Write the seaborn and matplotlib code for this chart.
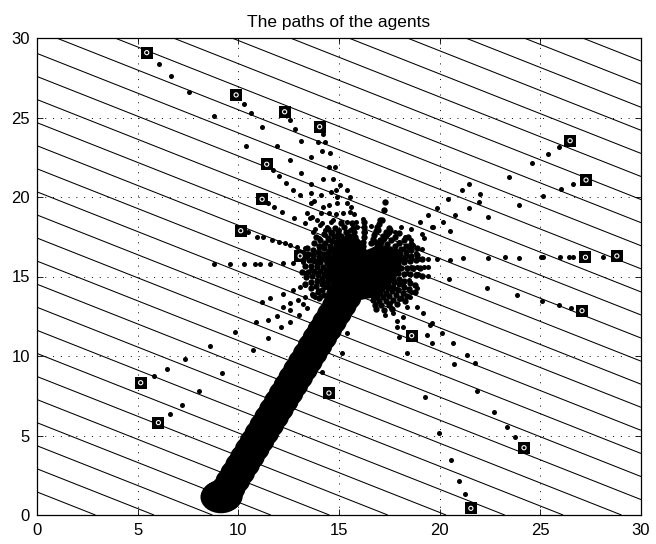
import matplotlib
matplotlib.use("Agg")
import matplotlib.pyplot as plt
import seaborn as sns
import numpy as np
import pandas as pd
from matplotlib.patches import Circle
from matplotlib.collections import PatchCollection

# ---------------- data ----------------
title = "The paths of the agents"
ticks = [0, 5, 10, 15, 20, 25, 30]

# starting positions of the agents (square markers)
agent_x = [5.45, 9.89, 12.30, 14.04, 11.41, 11.18, 10.12, 13.07, 5.15, 6.03,
           14.50, 18.61, 24.19, 21.55, 26.48, 27.27, 27.24, 28.80, 27.07]
agent_y = [29.08, 26.42, 25.36, 24.42, 22.06, 19.86, 17.88, 16.29, 8.32, 5.81,
           7.67, 11.28, 4.23, 0.42, 23.54, 21.07, 16.21, 16.29, 12.85]

# contour levels of the background field x + 2y
levels = [2.90, 5.81, 8.71, 11.61, 14.52, 17.42, 20.32, 23.23, 26.13, 29.03,
          31.94, 34.84, 37.74, 40.65, 43.55, 46.45, 49.35, 52.26, 55.16, 58.06,
          60.97, 63.87, 66.77, 69.68, 72.58, 75.48, 78.39, 81.29, 84.19, 87.10]

# path dots, grouped by region
dots_nw = [
    (6.08, 28.36), (6.66, 27.63), (7.57, 26.58), (8.81, 25.09), (10.38, 23.20),
    (10.27, 25.85), (10.65, 25.26), (11.18, 24.40), (11.91, 23.23), (12.55, 22.30),
    (13.10, 21.50), (13.60, 20.80), (14.10, 20.10), (14.50, 19.50), (14.85, 18.90), (15.10, 18.40),
    (12.58, 24.84), (12.80, 24.28), (13.11, 23.54), (13.60, 22.50), (14.19, 21.15),
    (14.60, 20.30), (14.90, 19.60), (15.20, 19.00), (15.40, 18.40), (15.55, 17.90),
    (14.19, 23.96), (13.98, 23.48), (14.32, 23.44), (14.17, 22.87), (14.56, 22.79),
    (14.49, 21.90), (14.80, 21.87), (14.72, 21.11), (15.05, 20.75), (15.38, 20.44),
    (15.55, 20.02), (15.60, 19.40), (15.75, 18.90), (15.85, 18.40),
    (14.85, 20.44), (14.89, 20.02), (15.38, 19.60), (15.55, 19.08), (13.60, 20.23),
    (13.78, 19.77), (14.22, 19.39), (14.50, 18.97), (14.72, 18.55), (13.56, 18.66),
    (14.06, 18.24), (14.31, 17.92), (15.05, 17.50),
    (11.70, 21.70), (12.00, 21.34), (12.35, 20.90), (12.73, 20.44), (13.07, 20.13),
    (13.60, 19.60), (14.10, 19.00), (14.60, 18.40), (15.00, 17.90),
    (11.46, 19.60), (11.77, 19.39), (12.19, 19.08), (12.78, 18.70), (13.30, 18.35),
    (13.80, 18.00), (14.30, 17.60), (14.80, 17.20),
    (13.40, 18.97), (13.65, 18.76), (13.89, 18.55), (14.14, 18.34), (14.39, 18.13),
    (14.64, 17.82), (14.89, 17.50), (15.05, 17.19), (15.30, 16.98),
    (10.50, 17.78), (10.91, 17.50), (11.24, 17.46), (11.66, 17.30), (12.04, 17.19),
    (12.32, 17.09), (12.57, 16.98), (12.90, 16.88), (13.31, 16.77), (13.73, 16.67),
    (14.06, 16.56), (14.40, 16.45),
    (13.40, 16.20), (13.70, 16.15), (14.00, 16.10), (14.30, 16.05),
    (8.80, 15.80), (9.60, 15.80), (10.30, 15.78), (10.83, 15.77), (11.08, 15.77),
    (11.57, 15.80), (12.24, 15.83), (12.73, 15.87), (13.23, 15.93), (13.73, 16.00),
    (14.14, 16.08), (14.47, 16.08),
]
dots_sw = [
    (5.81, 8.74), (6.44, 9.16), (7.35, 9.81), (8.59, 10.65), (9.85, 11.50),
    (10.90, 12.15), (11.90, 12.53), (12.57, 12.90), (13.20, 13.30), (13.80, 13.70),
    (6.61, 6.35), (7.19, 6.94), (8.05, 7.78), (9.21, 8.91), (10.71, 10.38),
    (11.48, 11.15), (12.10, 11.80), (12.57, 12.16), (13.00, 12.60), (13.40, 13.00),
    (11.16, 13.42), (11.57, 13.63), (12.24, 13.90), (12.73, 14.15), (13.07, 14.36),
    (13.32, 14.47), (13.62, 14.57), (13.89, 14.78), (14.14, 14.89), (14.39, 14.99),
    (12.24, 13.10), (12.57, 13.31), (12.98, 13.52), (13.31, 13.73), (13.64, 13.90),
    (13.97, 14.15), (14.31, 14.36), (11.48, 12.26),
    (14.16, 9.00), (15.14, 10.21), (15.38, 11.43),
]
dots_se = [
    (18.20, 11.84), (17.87, 11.84), (17.70, 12.68), (17.54, 13.31), (17.20, 13.73),
    (18.20, 12.47), (18.37, 13.10), (18.53, 13.73), (18.86, 13.10), (18.86, 14.26),
    (19.19, 12.68),
    (23.76, 4.89), (23.33, 5.53), (22.70, 6.48), (21.84, 7.82), (20.72, 9.50),
    (19.60, 10.80), (19.36, 11.32), (19.52, 11.95),
    (21.76, 9.54), (21.35, 10.06), (20.68, 10.80), (20.10, 11.43), (19.60, 12.06),
    (21.26, 1.32), (20.96, 2.16), (20.55, 3.44), (19.99, 5.18), (19.26, 7.40),
    (18.37, 10.17), (18.00, 11.20),
    (26.53, 13.04), (25.95, 13.21), (25.07, 13.46), (23.86, 13.84), (22.37, 14.30),
    (20.48, 14.82), (19.44, 15.03), (18.90, 15.15), (18.40, 15.25),
]
dots_ne = [
    (25.93, 23.12), (25.40, 22.70), (24.57, 22.12), (23.46, 21.24), (22.00, 20.19),
    (21.48, 19.33), (20.76, 18.87), (20.18, 18.45), (19.60, 18.13), (19.10, 17.70),
    (18.60, 17.30),
    (26.64, 20.80), (26.03, 20.50), (25.15, 20.06), (23.96, 19.50), (22.40, 18.77),
    (20.52, 17.88), (19.69, 18.09), (19.20, 17.40), (18.70, 17.00),
    (21.46, 20.82), (21.10, 20.44), (20.43, 19.86), (19.89, 19.29), (19.44, 18.85),
    (19.00, 18.40), (18.60, 18.00), (21.94, 19.67),
    (28.13, 16.25), (26.61, 16.20), (26.43, 16.20), (26.00, 16.22), (25.12, 16.22),
    (25.04, 16.22), (23.96, 16.18), (23.25, 16.20), (22.39, 16.14), (21.18, 16.14),
    (20.52, 16.04), (19.86, 16.12), (19.40, 16.10), (19.00, 16.10), (18.60, 16.08),
    (18.30, 16.05),
    (18.60, 15.60), (18.86, 15.60), (19.20, 15.62), (19.40, 15.60),
]
dots_core = [
    (17.60, 16.50), (17.90, 16.60), (18.20, 16.70), (18.50, 16.80), (18.00, 17.20),
    (18.30, 17.50), (17.80, 17.80), (18.10, 18.10), (18.40, 16.30), (18.80, 16.50),
    (19.10, 16.70), (18.50, 14.80), (18.20, 14.50), (17.90, 14.20), (18.60, 14.00),
    (18.00, 13.60), (17.60, 13.00), (17.30, 12.60), (17.90, 12.20), (14.20, 17.00),
    (14.00, 17.40), (13.70, 17.80), (14.50, 17.30), (13.90, 15.60), (13.60, 15.40),
    (13.30, 15.20), (13.90, 15.20), (14.10, 13.80), (14.50, 13.50), (14.00, 16.80),
    (16.60, 18.20), (16.30, 17.80), (15.90, 18.10), (16.20, 18.60),
]
# upward spikes above the meeting point
dots_spikes = [
    (17.29, 19.70), (17.24, 19.18), (17.12, 18.55), (16.96, 17.92), (16.79, 17.19),
    (17.54, 17.92), (17.47, 17.81), (17.40, 17.70), (17.33, 17.58), (17.25, 17.45),
    (17.18, 17.33), (17.10, 17.20), (17.02, 17.08), (16.95, 16.95), (16.87, 16.82),
    (17.04, 18.55), (16.97, 18.33), (16.90, 18.10), (16.83, 17.85), (16.75, 17.60),
    (16.68, 17.35), (16.60, 17.10),
]
# dense rays of dots radiating from the meeting point
dots_rays = [
    (17.33, 15.76), (17.63, 15.81), (17.92, 15.86), (18.22, 15.92), (18.51, 15.97), (18.81, 16.02), (19.11, 16.07),
    (17.24, 16.06), (17.51, 16.18), (17.78, 16.31), (18.05, 16.44), (18.32, 16.57), (18.60, 16.69), (18.87, 16.82),
    (17.07, 16.32), (17.30, 16.51), (17.53, 16.71), (17.76, 16.90), (17.99, 17.09), (18.22, 17.29), (18.45, 17.48),
    (15.74, 16.68), (15.64, 16.96), (15.53, 17.24), (15.43, 17.52), (15.33, 17.81), (15.23, 18.09), (15.12, 18.37),
    (15.46, 16.53), (15.29, 16.78), (15.12, 17.02), (14.94, 17.27), (14.77, 17.52), (14.60, 17.76), (14.43, 18.01),
    (15.23, 16.32), (15.00, 16.51), (14.77, 16.71), (14.54, 16.90), (14.31, 17.09), (14.08, 17.29), (13.85, 17.48),
    (15.06, 16.06), (14.79, 16.18), (14.52, 16.31), (14.25, 16.44), (13.98, 16.57), (13.70, 16.69), (13.43, 16.82),
    (14.97, 15.76), (14.67, 15.81), (14.38, 15.86), (14.08, 15.92), (13.79, 15.97), (13.49, 16.02), (13.20, 16.07),
    (14.95, 15.45), (14.66, 15.42), (14.36, 15.39), (14.06, 15.37), (13.76, 15.34), (13.46, 15.31), (13.16, 15.29),
    (15.02, 15.14), (14.74, 15.04), (14.46, 14.93), (14.18, 14.83), (13.89, 14.73), (13.61, 14.63), (13.33, 14.52),
    (15.17, 14.86), (14.92, 14.69), (14.68, 14.52), (14.43, 14.34), (14.18, 14.17), (13.94, 14.00), (13.69, 13.83),
    (16.46, 14.39), (16.54, 14.10), (16.62, 13.81), (16.69, 13.52), (16.77, 13.23), (16.85, 12.94),
    (16.75, 14.51), (16.90, 14.25), (17.05, 13.99), (17.20, 13.73), (17.35, 13.47), (17.50, 13.21), (17.65, 12.95),
    (17.00, 14.70), (17.21, 14.49), (17.42, 14.28), (17.63, 14.07), (17.85, 13.85), (18.06, 13.64), (18.27, 13.43),
    (17.19, 14.95), (17.45, 14.80), (17.71, 14.65), (17.97, 14.50), (18.23, 14.35), (18.49, 14.20), (18.75, 14.05),
    (17.33, 15.34), (17.63, 15.29), (17.92, 15.24), (18.22, 15.18), (18.51, 15.13), (18.81, 15.08), (19.11, 15.03),
]
dots_rays2 = [
    (17.50, 15.55), (17.80, 15.55), (18.10, 15.55), (18.40, 15.55), (18.70, 15.55), (19.00, 15.55),
    (17.44, 15.94), (17.73, 16.03), (18.01, 16.12), (18.30, 16.21), (18.59, 16.29), (18.87, 16.38),
    (17.29, 16.27), (17.55, 16.42), (17.80, 16.58), (18.06, 16.74), (18.31, 16.90), (18.57, 17.06),
    (17.02, 16.58), (17.21, 16.81), (17.40, 17.04), (17.60, 17.27), (17.79, 17.50), (17.98, 17.73),
    (16.78, 16.74), (16.92, 17.01), (17.06, 17.27), (17.21, 17.54), (17.35, 17.80), (17.49, 18.07),
    (16.20, 16.90), (16.21, 17.20), (16.22, 17.50), (16.23, 17.80), (16.24, 18.10), (16.25, 18.40),
    (15.92, 16.88), (15.86, 17.18), (15.81, 17.47), (15.76, 17.77), (15.71, 18.06), (15.65, 18.36),
    (15.52, 16.74), (15.38, 17.01), (15.24, 17.27), (15.09, 17.54), (14.95, 17.80), (14.81, 18.07),
    (15.25, 16.55), (15.05, 16.78), (14.85, 17.00), (14.64, 17.22), (14.44, 17.44), (14.24, 17.67),
    (15.02, 16.29), (14.77, 16.45), (14.51, 16.61), (14.26, 16.78), (14.01, 16.94), (13.76, 17.10),
    (14.87, 15.97), (14.58, 16.06), (14.30, 16.15), (14.01, 16.25), (13.72, 16.34), (13.44, 16.43),
    (14.80, 15.60), (14.50, 15.61), (14.20, 15.62), (13.90, 15.63), (13.60, 15.64), (13.30, 15.65),
    (14.83, 15.27), (14.54, 15.21), (14.24, 15.14), (13.95, 15.08), (13.66, 15.02), (13.36, 14.96),
    (14.95, 14.94), (14.68, 14.80), (14.41, 14.66), (14.15, 14.53), (13.88, 14.39), (13.61, 14.26),
    (15.15, 14.65), (14.92, 14.45), (14.70, 14.25), (14.48, 14.04), (14.26, 13.84), (14.03, 13.64),
    (16.66, 14.30), (16.77, 14.02), (16.88, 13.74), (16.99, 13.46), (17.11, 13.19), (17.22, 12.91),
    (16.96, 14.47), (17.14, 14.23), (17.32, 13.99), (17.50, 13.75), (17.69, 13.51), (17.87, 13.27),
    (17.21, 14.72), (17.45, 14.53), (17.69, 14.35), (17.92, 14.16), (18.16, 13.98), (18.40, 13.79),
    (17.40, 15.04), (17.68, 14.93), (17.96, 14.82), (18.24, 14.71), (18.51, 14.59), (18.79, 14.48),
]

# solid central cluster outline
core_x = [14.36, 14.47, 14.80, 15.14, 15.38, 15.80, 16.13, 16.38, 16.95, 17.54,
          17.95, 18.12, 17.87, 17.54, 17.12, 16.54, 16.05, 15.38, 14.80, 14.47]
core_y = [15.20, 15.93, 16.56, 17.19, 17.82, 17.61, 17.19, 16.67, 16.98, 16.88,
          16.35, 15.62, 14.99, 14.47, 13.94, 13.63, 13.52, 13.73, 14.26, 14.67]

# formation centre trajectory (thick band of circles)
band_x = [9.25, 9.49, 9.73, 9.97, 10.21, 10.45, 10.69, 10.93, 11.17, 11.41,
          11.65, 11.89, 12.13, 12.37, 12.61, 12.85, 13.09, 13.33, 13.57, 13.81,
          14.05, 14.29, 14.53, 14.77, 15.01, 15.25, 15.49, 15.73, 15.97]
band_y = [1.15, 1.65, 2.15, 2.65, 3.15, 3.65, 4.15, 4.65, 5.15, 5.65,
          6.15, 6.65, 7.15, 7.65, 8.15, 8.65, 9.15, 9.65, 10.15, 10.65,
          11.15, 11.65, 12.15, 12.65, 13.15, 13.65, 14.15, 14.65, 15.15]
end_x = [9.14, 9.20]
end_y = [1.13, 1.20]

# ---------------- figure ----------------
plt.rcParams['font.family'] = ['Liberation Sans', 'DejaVu Sans']
fig = plt.figure(figsize=(6.56, 5.44), dpi=100)
ax = fig.add_axes([37 / 656, 29 / 544, 604 / 656, 477 / 544])

# background contour lines
gx = np.linspace(0, 30, 61)
GX, GY = np.meshgrid(gx, gx)
ax.contour(GX, GY, GX + 2 * GY, levels=levels, colors='k', linewidths=0.75, zorder=1)

# band of circles
patches = [Circle((x, y), 0.86) for x, y in zip(band_x, band_y)]
patches += [Circle((x, y), 1.02) for x, y in zip(end_x, end_y)]
ax.add_collection(PatchCollection(patches, facecolor='k', edgecolor='none', zorder=4))
ax.fill(core_x, core_y, color='k', zorder=4, linewidth=0)

# dots
frames = []
for name, pts in [('nw', dots_nw), ('sw', dots_sw), ('se', dots_se),
                  ('ne', dots_ne), ('core', dots_core)]:
    d = pd.DataFrame(pts, columns=['x', 'y'])
    d['group'] = name
    frames.append(d)
df = pd.concat(frames, ignore_index=True)
sns.scatterplot(data=df, x='x', y='y', color='k', s=13, linewidth=0,
                legend=False, ax=ax, zorder=5)

rays = pd.DataFrame(dots_rays + dots_rays2 + dots_spikes, columns=['x', 'y'])
sns.scatterplot(data=rays, x='x', y='y', color='k', s=21, linewidth=0,
                legend=False, ax=ax, zorder=5)

# agents
agents = pd.DataFrame({'x': agent_x, 'y': agent_y})
sns.scatterplot(data=agents, x='x', y='y', marker='s', color='k', s=72,
                linewidth=0, legend=False, ax=ax, zorder=6)
ax.scatter(agents['x'], agents['y'], marker='o', s=9, facecolors='none',
           edgecolors='white', linewidths=0.8, zorder=7)

ax.set_xlim(0, 30)
ax.set_ylim(0, 30)
ax.set_xticks(ticks)
ax.set_yticks(ticks)
ax.set_xticklabels([str(t) for t in ticks])
ax.set_yticklabels([str(t) for t in ticks])
ax.set_xlabel('')
ax.set_ylabel('')
ax.grid(True, color='k', linestyle=(0, (1, 7)), linewidth=0.7, zorder=0)
ax.set_axisbelow(True)
ax.tick_params(direction='in', length=4, width=0.6, top=True, right=True,
               labelsize=12, colors='k')
ax.tick_params(axis='x', pad=6)
ax.tick_params(axis='y', pad=5)
for s in ax.spines.values():
    s.set_linewidth(0.9)
    s.set_color('k')
ax.set_title(title, fontsize=12.5, pad=8)

fig.savefig('out.png', dpi=100, facecolor='white')
